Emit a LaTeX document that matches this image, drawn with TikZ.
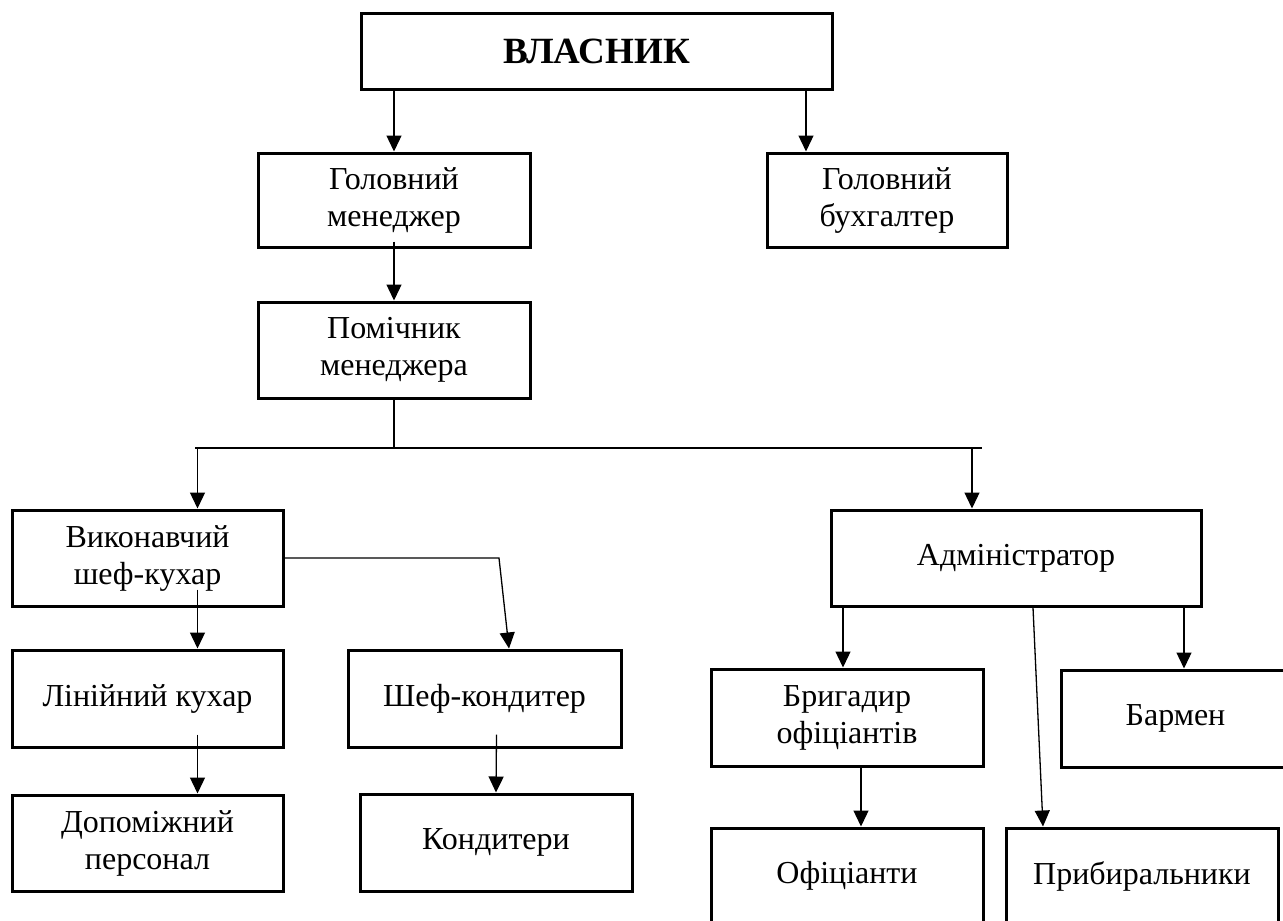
\documentclass[tikz,border=0pt]{standalone}
\usepackage{fontspec}
\setmainfont{Liberation Serif}
\usetikzlibrary{arrows.meta}
\usetikzlibrary{calc}

\begin{document}
\begin{tikzpicture}[x=1pt,y=-1pt,
    box/.style={draw,line width=3pt,inner sep=0pt,align=center,
      font=\fontsize{32}{37}\selectfont},
    conn/.style={line width=1.3pt,-{Triangle[width=15pt,length=16pt]}},
    plain/.style={line width=1.3pt}]
    \useasboundingbox (0,0) rectangle (1283,921);
    \clip (0,0) rectangle (1283,921);

    % Define the boxes
    \node[box,minimum width=471pt,minimum height=76pt,font=\fontsize{37}{42}\selectfont\bfseries] (vlasnyk) at (596.5,51) {ВЛАСНИК};
    \node[box,minimum width=272pt,minimum height=94pt] (gm) at (394,200) {Головний\\менеджер};
    \node[box,minimum width=240pt,minimum height=94pt] (gb) at (887,200) {Головний\\бухгалтер};
    \node[box,minimum width=272pt,minimum height=96pt] (pm) at (394,350) {Помічник\\менеджера};
    \node[box,minimum width=271pt,minimum height=96pt] (vk) at (147.5,558) {Виконавчий\\шеф-кухар};
    \node[box,minimum width=271pt,minimum height=97pt] (lk) at (147.5,698.5) {Лінійний кухар};
    \node[box,minimum width=271pt,minimum height=96pt] (dp) at (147.5,843) {Допоміжний\\персонал};
    \node[box,minimum width=273pt,minimum height=97pt] (sk) at (484.5,698.5) {Шеф-кондитер};
    \node[box,minimum width=272pt,minimum height=97pt] (kd) at (496,842.5) {Кондитери};
    \node[box,minimum width=370pt,minimum height=96pt] (adm) at (1016,558) {Адміністратор};
    \node[box,minimum width=272pt,minimum height=97pt] (bh) at (847,717.5) {Бригадир\\офіціантів};
    \node[box,minimum width=229pt,minimum height=97pt] (barmen) at (1175.5,718.5) {Бармен};
    \node[box,minimum width=272pt,minimum height=96pt] (of) at (847,876) {Офіціанти};
    \node[box,minimum width=272pt,minimum height=96pt] (pryb) at (1142,876) {Прибиральники};

    % Define the connector points
    \coordinate (busL) at (195,448);
    \coordinate (busR) at (982,448);
    \coordinate (gbin) at ([xshift=-81pt]gb.north);
    \coordinate (vkin) at ([xshift=50pt]vk.north);
    \coordinate (admin) at ([xshift=-44pt]adm.north);
    \coordinate (skturn) at (499,558);
    \coordinate (skin) at ([xshift=24.5pt]sk.north);

    % Draw the lines
    \draw[conn] (vlasnyk.south -| gm.north) -- (gm.north);
    \draw[conn] (vlasnyk.south -| gbin) -- (gbin);
    \draw[conn] ([yshift=7pt]gm.south) -- (pm.north);
    \draw[plain] (pm.south) -- (pm.south |- busL);
    \draw[plain] (busL) -- (busR);
    \draw[conn] (vkin |- busL) -- (vkin);
    \draw[conn] (admin |- busL) -- (admin);
    \draw[conn] (vk.east) -- (skturn) -- (skin);
    \draw[conn] ([xshift=50pt,yshift=18pt]vk.south) -- ([xshift=50pt]lk.north);
    \draw[conn] ([xshift=50pt,yshift=14pt]lk.south) -- ([xshift=50pt]dp.north);
    \draw[conn] ([xshift=12pt,yshift=14pt]sk.south) -- (kd.north);
    \draw[conn] ([xshift=-4pt]bh.north |- adm.south) -- ([xshift=-4pt]bh.north);
    \draw[conn] ([xshift=8.5pt]barmen.north |- adm.south) -- ([xshift=8.5pt]barmen.north);
    \draw[conn] ([xshift=17pt]adm.south) -- ([xshift=-99pt]pryb.north);
    \draw[conn] ([xshift=14pt]bh.south) -- ([xshift=14pt]of.north);
\end{tikzpicture}
\end{document}
